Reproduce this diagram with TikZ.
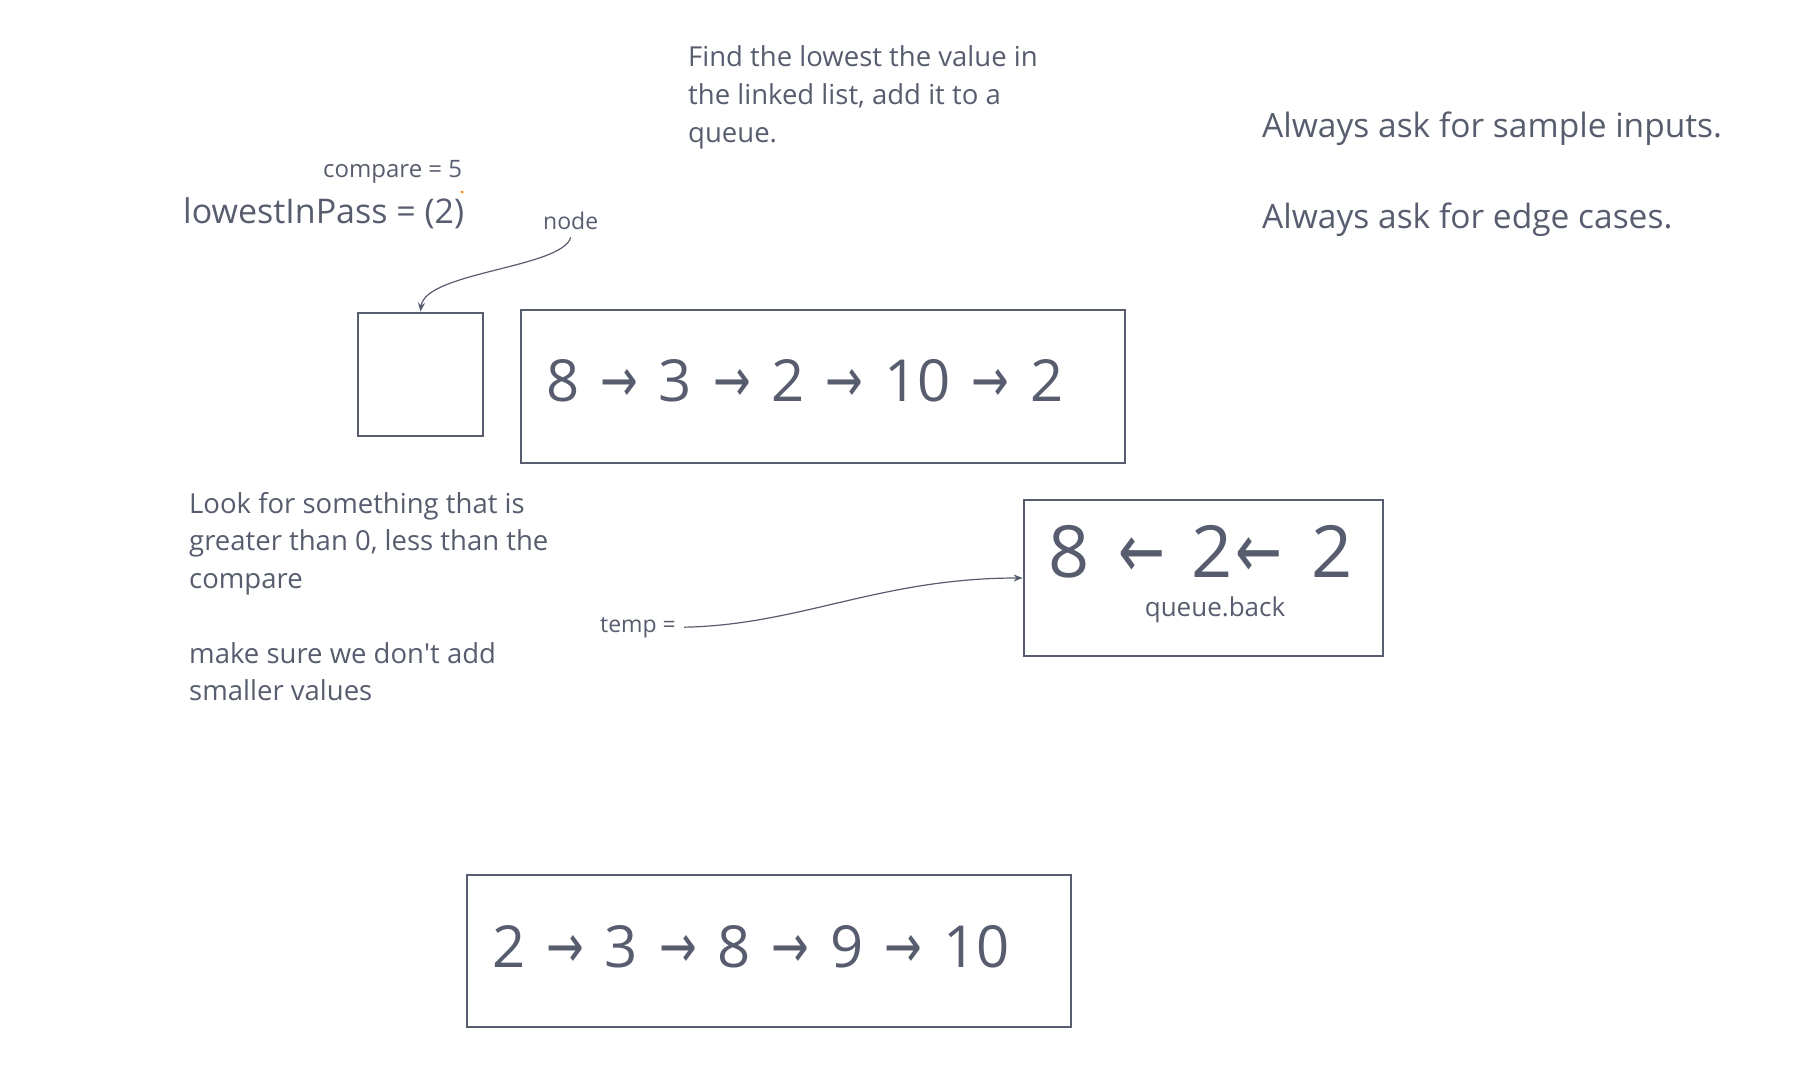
\documentclass[tikz,border=0pt]{standalone}
\usepackage{graphicx}
\usepackage{fontspec}
\setmainfont{Open Sans}
\newfontfamily\arrowfont{DejaVu Sans}
\usetikzlibrary{arrows.meta}
\definecolor{ink}{RGB}{87,93,110}
\newcommand\rarr{\hspace{21pt}\scalebox{1}[1.35]{\fontsize{45}{45}\arrowfont →}\hspace{21pt}}
\newcommand\larr[2]{\hspace{#1pt}\scalebox{1}[1.35]{\fontsize{56}{56}\arrowfont ←}\hspace{#2pt}}

\begin{document}
\begin{tikzpicture}[x=1pt,y=-1pt,
  note/.style={text=ink,inner sep=0pt,align=left},
  box/.style={draw=ink,line width=2.8pt,inner xsep=25pt,inner ysep=0pt,text=ink,align=left},
  link/.style={draw=ink,line width=1.2pt,-{Stealth[length=9pt,width=7pt]}}]
\useasboundingbox (0,0) rectangle (1794,1082);

\node[note,anchor=north west,font=\fontsize{27.5}{38}\selectfont] (goal) at (688,45)
  {Find the lowest the value in\\the linked list, add it to a\\queue.};
\node[note,anchor=base west,font=\fontsize{33.5}{40}\selectfont] (inputs) at (1262,137) {Always ask for sample inputs.};
\node[note,anchor=base west,font=\fontsize{33.5}{40}\selectfont] (edges) at (1262,228) {Always ask for edge cases.};

\node[note,anchor=base west,font=\fontsize{24}{30}\selectfont] (compare) at (323,177) {compare = 5};
\node[note,anchor=base west,font=\fontsize{34}{40}\selectfont] (lowest) at (183,223) {lowestInPass = (2)};
\fill[orange] (462,192) circle (1.5);
\node[note,anchor=base west,font=\fontsize{23}{30}\selectfont] (nodelbl) at (543,229) {node};

\node[box,minimum width=125pt,minimum height=123pt] (cell) at (420.5,374.5) {};
\node[box,text width=554pt,minimum height=153pt,text depth=12pt,font=\fontsize{58}{58}\selectfont] (list) at (823,386.5)
  {8\rarr 3\rarr 2\rarr 10\rarr 2};

\node[note,anchor=north west,font=\fontsize{27.5}{37.5}\selectfont] (lookfor) at (189,492)
  {Look for something that is\\greater than 0, less than the\\compare\\[37.5pt]make sure we don\textquotesingle t add\\smaller values};

\node[note,anchor=base west,font=\fontsize{23}{30}\selectfont] (temp) at (600,632) {temp =};
\node[box,minimum width=359pt,minimum height=156pt] (queue) at (1203.5,578) {};
\node[note,anchor=base,font=\fontsize{72}{72}\selectfont] (qvals) at (1200.5,577) {8\larr{29}{26}2\larr{3}{29}2};
\node[note,anchor=base,font=\fontsize{26}{30}\selectfont] (back) at (1215,616) {queue.back};

\node[box,text width=554pt,minimum height=152pt,text depth=10pt,font=\fontsize{58}{58}\selectfont] (sorted) at (769,951)
  {2\rarr 3\rarr 8\rarr 9\rarr 10};

\draw[link] ([yshift=-8pt]nodelbl.south) .. controls (562,268) and (425,272) .. (cell.north);
\draw[link] ([xshift=8pt]temp.east) .. controls (800,625) and (880,578) .. (queue.west);
\end{tikzpicture}
\end{document}
